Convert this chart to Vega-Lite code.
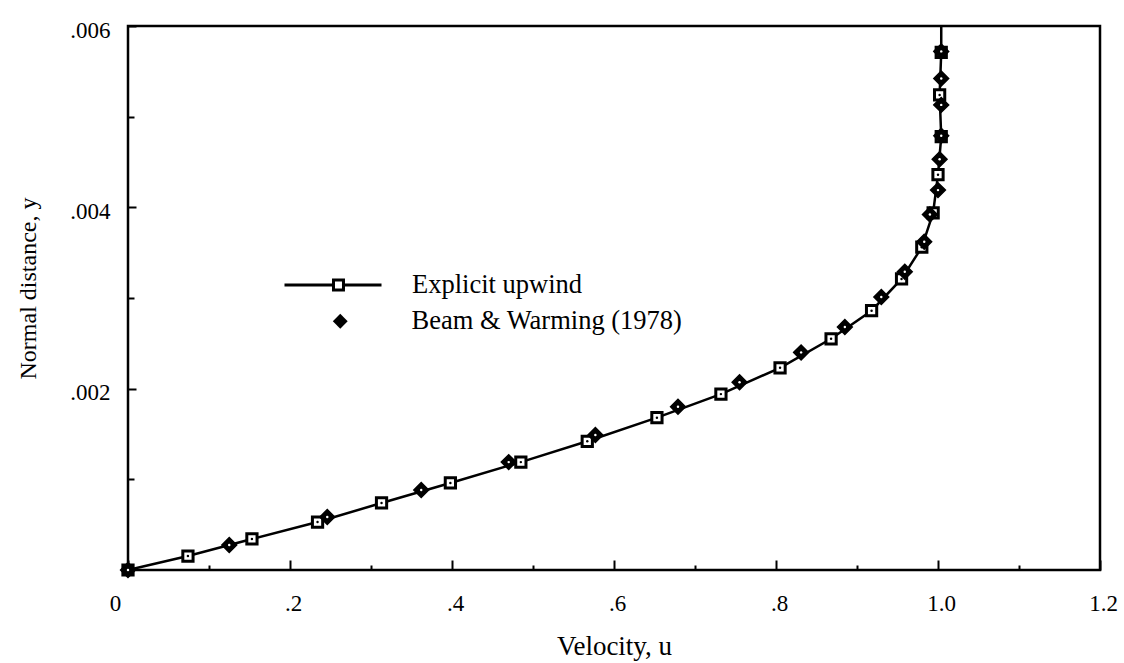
{
  "$schema": "https://vega.github.io/schema/vega-lite/v6.json",
  "width": 972,
  "height": 544,
  "autosize": "none",
  "padding": {"left": 128, "top": 26, "right": 24, "bottom": 93},
  "background": "white",
  "config": {
    "view": {"stroke": "black", "strokeWidth": 2.5},
    "axis": {
      "labelFont": "Liberation Serif",
      "titleFont": "Liberation Serif",
      "labelColor": "black",
      "titleColor": "black",
      "titleFontWeight": "normal",
      "grid": false,
      "domain": false,
      "tickColor": "black",
      "tickWidth": 2,
      "labelOverlap": false,
      "labelFlush": false,
      "labelBound": false
    },
    "legend": {
      "labelFont": "Liberation Serif",
      "labelColor": "black",
      "labelFontSize": 26.5,
      "labelLimit": 500,
      "padding": 0,
      "title": null
    }
  },
  "datasets": {
    "explicit": [
      {"u": 0, "y": 0, "marker": true, "series": "Explicit upwind"},
      {"u": 0.074, "y": 0.000154, "marker": true, "series": "Explicit upwind"},
      {"u": 0.153, "y": 0.000342, "marker": true, "series": "Explicit upwind"},
      {"u": 0.234, "y": 0.000529, "marker": true, "series": "Explicit upwind"},
      {"u": 0.313, "y": 0.000739, "marker": true, "series": "Explicit upwind"},
      {"u": 0.398, "y": 0.00096, "marker": true, "series": "Explicit upwind"},
      {"u": 0.485, "y": 0.00119, "marker": true, "series": "Explicit upwind"},
      {"u": 0.567, "y": 0.00142, "marker": true, "series": "Explicit upwind"},
      {"u": 0.653, "y": 0.00168, "marker": true, "series": "Explicit upwind"},
      {"u": 0.732, "y": 0.00194, "marker": true, "series": "Explicit upwind"},
      {"u": 0.805, "y": 0.00223, "marker": true, "series": "Explicit upwind"},
      {"u": 0.868, "y": 0.00255, "marker": true, "series": "Explicit upwind"},
      {"u": 0.918, "y": 0.00286, "marker": true, "series": "Explicit upwind"},
      {"u": 0.955, "y": 0.00321, "marker": true, "series": "Explicit upwind"},
      {"u": 0.98, "y": 0.00356, "marker": true, "series": "Explicit upwind"},
      {"u": 0.994, "y": 0.00394, "marker": true, "series": "Explicit upwind"},
      {"u": 1.0, "y": 0.00436, "marker": true, "series": "Explicit upwind"},
      {"u": 1.004, "y": 0.00478, "marker": true, "series": "Explicit upwind"},
      {"u": 1.002, "y": 0.00524, "marker": true, "series": "Explicit upwind"},
      {"u": 1.004, "y": 0.00571, "marker": true, "series": "Explicit upwind"},
      {"u": 1.004, "y": 0.006, "marker": false, "series": "Explicit upwind"}
    ],
    "beam": [
      {"u": 0, "y": 0, "method": "Beam & Warming (1978)"},
      {"u": 0.125, "y": 0.000276, "method": "Beam & Warming (1978)"},
      {"u": 0.246, "y": 0.000585, "method": "Beam & Warming (1978)"},
      {"u": 0.362, "y": 0.000882, "method": "Beam & Warming (1978)"},
      {"u": 0.47, "y": 0.00119, "method": "Beam & Warming (1978)"},
      {"u": 0.577, "y": 0.00149, "method": "Beam & Warming (1978)"},
      {"u": 0.679, "y": 0.0018, "method": "Beam & Warming (1978)"},
      {"u": 0.755, "y": 0.00207, "method": "Beam & Warming (1978)"},
      {"u": 0.831, "y": 0.0024, "method": "Beam & Warming (1978)"},
      {"u": 0.885, "y": 0.00268, "method": "Beam & Warming (1978)"},
      {"u": 0.93, "y": 0.00301, "method": "Beam & Warming (1978)"},
      {"u": 0.959, "y": 0.00329, "method": "Beam & Warming (1978)"},
      {"u": 0.983, "y": 0.00362, "method": "Beam & Warming (1978)"},
      {"u": 0.99, "y": 0.00392, "method": "Beam & Warming (1978)"},
      {"u": 1.0, "y": 0.00419, "method": "Beam & Warming (1978)"},
      {"u": 1.002, "y": 0.00453, "method": "Beam & Warming (1978)"},
      {"u": 1.004, "y": 0.00479, "method": "Beam & Warming (1978)"},
      {"u": 1.004, "y": 0.00513, "method": "Beam & Warming (1978)"},
      {"u": 1.004, "y": 0.00542, "method": "Beam & Warming (1978)"},
      {"u": 1.004, "y": 0.00572, "method": "Beam & Warming (1978)"}
    ]
  },
  "encoding": {
    "x": {
      "field": "u",
      "type": "quantitative",
      "scale": {"domain": [0, 1.2], "nice": false, "zero": false},
      "axis": {
        "title": "Velocity,  u",
        "titleFontSize": 27,
        "titleBaseline": "alphabetic",
        "titleY": 84,
        "labelFontSize": 23,
        "values": [0, 0.1, 0.2, 0.3, 0.4, 0.5, 0.6, 0.7, 0.8, 0.9, 1.0, 1.1, 1.2],
        "tickSize": {"condition": {"test": "round(datum.value*10) % 2 == 0", "value": -10}, "value": -5},
        "labelPadding": 50,
        "labelBaseline": "alphabetic",
        "labelOffset": {"condition": {"test": "datum.value == 0", "value": -13}, "value": 3},
        "labelExpr": "round(datum.value*10) % 2 != 0 ? '' : datum.value == 0 ? '0' : datum.value > 0.99 ? format(datum.value, '.1f') : replace(format(datum.value, '.1f'), '0.', '.')"
      }
    },
    "y": {
      "field": "y",
      "type": "quantitative",
      "scale": {"domain": [0, 0.006], "nice": false, "zero": false},
      "axis": {
        "title": "Normal distance,  y",
        "titleFontSize": 24,
        "titleBaseline": "alphabetic",
        "titleAngle": -90,
        "titleX": -93,
        "titleY": 262,
        "labelFontSize": 23,
        "labelOffset": 4,
        "values": [0.001, 0.002, 0.003, 0.004, 0.005, 0.006],
        "tickSize": {"condition": {"test": "round(datum.value*1000) % 2 == 0", "value": -8}, "value": -6},
        "labelPadding": 26,
        "labelExpr": "round(datum.value*1000) % 2 != 0 ? '' : replace(format(datum.value, '.3f'), '0.', '.')"
      }
    }
  },
  "layer": [
    {
      "data": {"name": "explicit"},
      "mark": {"type": "line", "strokeWidth": 2.5},
      "encoding": {
        "order": {"field": "y", "type": "quantitative"},
        "stroke": {
          "field": "series",
          "type": "nominal",
          "scale": {"domain": ["Explicit upwind"], "range": ["black"]},
          "legend": {
            "orient": "none",
            "legendX": 155,
            "legendY": 209,
            "symbolType": "M-1,0H0.01M0.216,0H1M0.01,-0.103H0.216V0.103H0.01Z",
            "symbolSize": 9409,
            "symbolStrokeWidth": 3,
            "symbolStrokeColor": "black",
            "labelOffset": 29
          }
        }
      }
    },
    {
      "data": {"name": "explicit"},
      "transform": [{"filter": "datum.marker"}],
      "mark": {"type": "point", "shape": "square", "filled": true, "fill": "white", "stroke": "black", "strokeWidth": 3, "size": 105, "opacity": 1}
    },
    {
      "data": {"name": "explicit"},
      "transform": [{"filter": "datum.marker"}],
      "mark": {"type": "point", "shape": "circle", "filled": true, "fill": "black", "size": 6, "opacity": 1}
    },
    {
      "data": {"name": "beam"},
      "mark": {"type": "point", "filled": true, "fill": "black", "stroke": "black", "strokeWidth": 1.5, "size": 220, "opacity": 1},
      "encoding": {
        "shape": {
          "field": "method",
          "type": "nominal",
          "scale": {"domain": ["Beam & Warming (1978)"], "range": ["diamond"]},
          "legend": {
            "orient": "none",
            "legendX": 199,
            "legendY": 282,
            "symbolSize": 220,
            "symbolFillColor": "black",
            "symbolStrokeColor": "black",
            "labelOffset": 58
          }
        }
      }
    },
    {
      "data": {"name": "beam"},
      "mark": {"type": "point", "shape": "circle", "filled": true, "fill": "white", "size": 6, "opacity": 1}
    }
  ]
}
